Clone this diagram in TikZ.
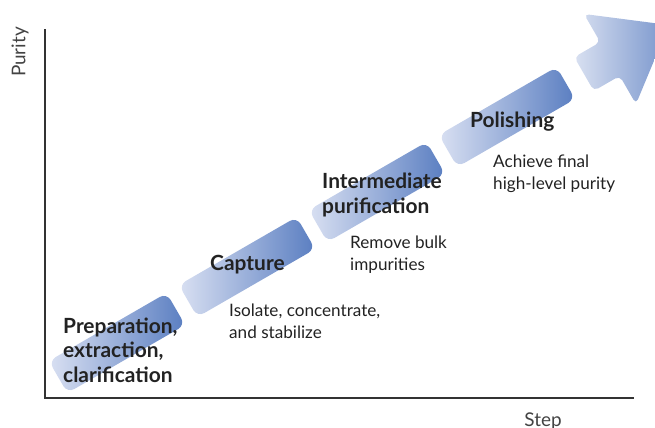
\documentclass[tikz,border=0pt]{standalone}
\usepackage{fontspec}
\setmainfont{Lato}
\definecolor{barlight}{HTML}{D9E0F2}
\definecolor{bardark}{HTML}{5A7EC1}
\definecolor{arrowlight}{HTML}{ECEFF8}
\definecolor{textcol}{HTML}{222222}
\definecolor{axiscol}{HTML}{333333}
\begin{document}
\begin{tikzpicture}[x=1bp,y=-1bp,
  stagebar/.style={rectangle, rounded corners=8bp, minimum width=136bp, minimum height=37bp,
    inner sep=0pt, rotate=30, left color=barlight, right color=bardark, draw=none},
  stagename/.style={font=\bfseries\fontsize{21}{24.5}\selectfont, text=textcol,
    anchor=base west, align=left, inner sep=0pt},
  stagedesc/.style={font=\fontsize{17.2}{21.5}\selectfont, text=textcol,
    anchor=base west, align=left, inner sep=0pt},
  axislabel/.style={font=\fontsize{19}{21}\selectfont, text=textcol!85, inner sep=0pt},
  axisline/.style={draw=axiscol, line width=2bp}
]
\useasboundingbox (0,0) rectangle (655,427);
\clip (0,0) rectangle (655,427);

% axes
\coordinate (ytop) at (45,29);
\coordinate (origin) at (45,398);
\coordinate (xend) at (634,398);
\draw[axisline] (ytop) -- (origin) -- (xend);

\node[axislabel, rotate=90] (purity) at (20,52) {Purity};
\node[axislabel, anchor=base] (step) at (543,426) {Step};

% bars
\node[stagebar] (bar1) at (117,343) {};
\node[stagebar] (bar2) at (247,267) {};
\node[stagebar] (bar3) at (377,192) {};
\node[stagebar] (bar4) at (507,117) {};

% arrow
\begin{scope}[shift={(584,74)}, rotate=30]
  \begin{scope}
    \clip[rounded corners=5bp] (0,-19.5) -- (30,-19.5) -- (30,-52) -- (98,0)
      -- (30,52) -- (30,19.5) -- (0,19.5) -- cycle;
    \node[rectangle, transform shape, minimum width=100bp, minimum height=108bp,
      inner sep=0pt, anchor=west, left color=arrowlight, right color=bardark]
      (arrowfill) at (-1,0) {};
  \end{scope}
\end{scope}

% labels (base = baseline of the last line)
\node[stagename] (prep) at (63,382) {Preparation,\\extraction,\\clarification};
\node[stagename] (capt) at (210,270) {Capture};
\node[stagedesc] (captd) at (229,338) {Isolate, concentrate,\\and stabilize};
\node[stagename] (inter) at (322,213) {Intermediate\\purification};
\node[stagedesc] (interd) at (350,270) {Remove bulk\\impurities};
\node[stagename] (pol) at (470,127) {Polishing};
\node[stagedesc] (pold) at (493,189) {Achieve final\\high-level purity};
\end{tikzpicture}
\end{document}
